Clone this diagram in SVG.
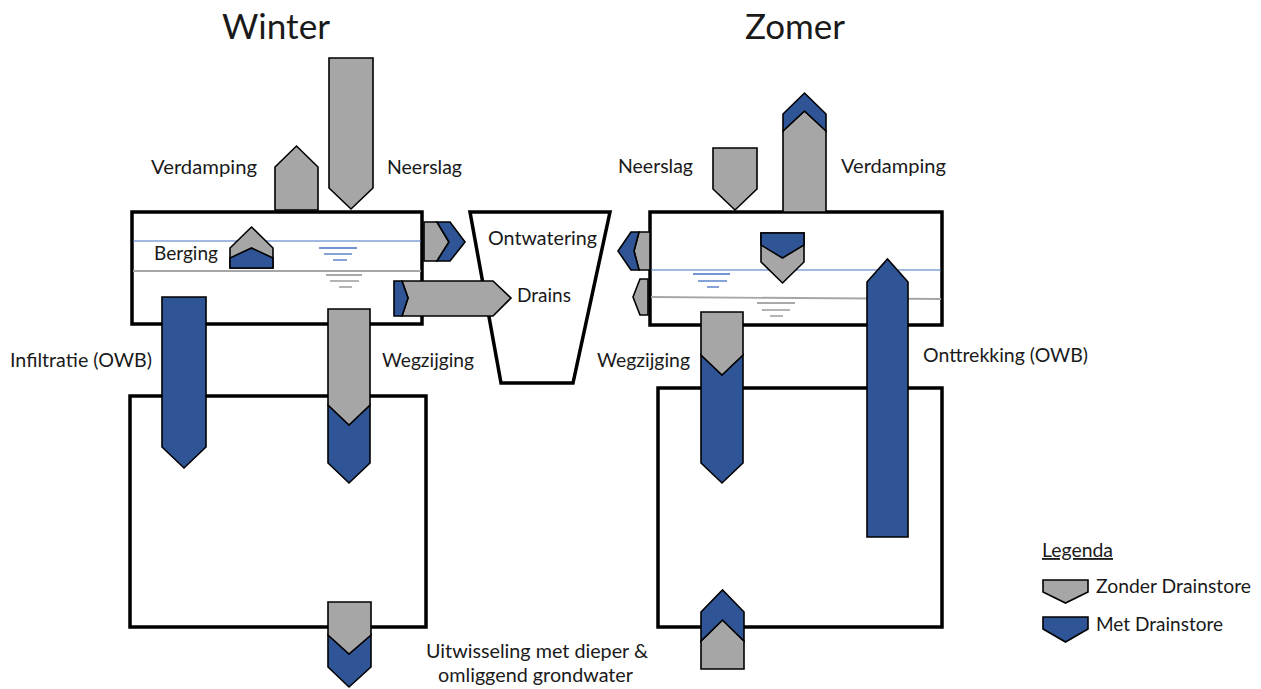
<svg xmlns="http://www.w3.org/2000/svg" width="1261" height="689" viewBox="0 0 1261 689">
<style>
.bg{fill:#ffffff}
.box{fill:none;stroke:#000;stroke-width:3.5}
.boxw{fill:#ffffff;stroke:#000;stroke-width:3.5}
.g{fill:#A6A6A6;stroke:#000;stroke-width:1.6;stroke-linejoin:miter}
.b{fill:#2F5597;stroke:#000;stroke-width:1.6;stroke-linejoin:miter}
.wl{stroke:#4472C4;stroke-width:1.2;fill:none}
.gl{stroke:#A6A6A6;stroke-width:1.8;fill:none}
.ws{stroke:#4472C4;stroke-width:1.3}
.gs{stroke:#8C8C8C;stroke-width:1.3}
text{font-family:Lato,"Open Sans","Liberation Sans",sans-serif;fill:#1a1a1a;font-size:18.5px}
.title{font-size:34.5px}
</style>
<rect class="bg" x="0" y="0" width="1261" height="689"/>

<!-- Winter -->
<g id="winter-upper-box">
<rect class="boxw" x="132" y="212" width="290" height="112"/>
<line class="wl" x1="133" y1="241" x2="421" y2="241"/>
<line class="gl" x1="133" y1="271" x2="421" y2="271"/>
<line class="ws" x1="319" y1="248" x2="357" y2="248"/>
<line class="ws" x1="324" y1="254" x2="352" y2="254"/>
<line class="ws" x1="333" y1="260" x2="347" y2="260"/>
<line class="gs" x1="326" y1="275" x2="362" y2="275"/>
<line class="gs" x1="330" y1="281" x2="359" y2="281"/>
<line class="gs" x1="339" y1="287" x2="352" y2="287"/>
</g>
<g id="winter-lower-box">
<rect class="box" x="130" y="396" width="296" height="231"/>
</g>
<g id="ditch">
<polygon class="box" points="470,212 610,212 573,383 501,383"/>
</g>

<!-- Zomer -->
<g id="summer-upper-box">
<rect class="boxw" x="650" y="212" width="292" height="113"/>
<line class="wl" x1="651" y1="270" x2="941" y2="270"/>
<line class="gl" x1="651" y1="297" x2="941" y2="299"/>
<line class="ws" x1="693" y1="274" x2="730" y2="274"/>
<line class="ws" x1="698" y1="281" x2="727" y2="281"/>
<line class="ws" x1="707" y1="287" x2="719" y2="287"/>
<line class="gs" x1="757" y1="303" x2="795" y2="303"/>
<line class="gs" x1="762" y1="310" x2="790" y2="310"/>
<line class="gs" x1="770" y1="316" x2="783" y2="316"/>
</g>
<g id="summer-lower-box">
<rect class="box" x="658" y="388" width="284" height="239"/>
</g>

<g id="connectors">
<!-- Winter arrows -->
<g id="w-verdamping"><polygon class="g" points="275,210 275,167 296.5,146 318,167 318,210"/></g>
<g id="w-neerslag"><polygon class="g" points="329,58 373,58 373,188 351,209 329,188"/></g>
<g id="w-berging">
<polygon class="g" points="230,268 230,248 251.5,227 273,248 273,268"/>
<polygon class="b" points="230,268 230,258 251.5,248 273,258 273,268"/>
</g>
<g id="w-ontwatering">
<polygon class="g" points="424,222 437,222 449,242 437,261 424,261"/>
<polygon class="b" points="437,222 450,222 465,242 450,261 437,261 449,242"/>
</g>
<g id="w-drains">
<polygon class="g" points="402,281 493,281 511,298 493,316 402,316 408,298"/>
<polygon class="b" points="394,281 402,281 408,298 402,316 394,316"/>
</g>
<g id="w-infiltratie"><polygon class="b" points="162,297 206,297 206,447 184,468 162,447"/></g>
<g id="w-wegzijging">
<polygon class="b" points="328,405 349,425 370,405 370,463 349,483 328,463"/>
<polygon class="g" points="328,309 370,309 370,405 349,425 328,405"/>
</g>
<g id="w-uitwisseling">
<polygon class="b" points="328,635 349,654 371,635 371,667 349,687 328,667"/>
<polygon class="g" points="328,602 371,602 371,635 349,654 328,635"/>
</g>

<!-- Summer arrows -->
<g id="z-neerslag"><polygon class="g" points="713,148 757,148 757,189 735,210 713,189"/></g>
<g id="z-verdamping">
<polygon class="g" points="783,212 783,131 804.5,111 826,131 826,212"/>
<polygon class="b" points="783,131 783,114 804.5,93 826,114 826,131 804.5,111"/>
</g>
<g id="z-berging">
<polygon class="g" points="761,233 804,233 804,262 782.5,283 761,262"/>
<polygon class="b" points="761,233 804,233 804,245 782.5,258 761,245"/>
</g>
<g id="z-ontwatering">
<polygon class="g" points="650,232 639,232 634,251 639,270 650,270"/>
<polygon class="b" points="639,232 631,232 618,251 631,270 639,270 634,251"/>
</g>
<g id="z-drains"><polygon class="g" points="648,279 640,279 633,297 640,315 648,315"/></g>
<g id="z-wegzijging">
<polygon class="b" points="701,355 722,375 743,355 743,463 722,483 701,463"/>
<polygon class="g" points="701,312 743,312 743,355 722,375 701,355"/>
</g>
<g id="z-onttrekking"><polygon class="b" points="867,537 867,282 887.5,259 908,282 908,537"/></g>
<g id="z-uitwisseling">
<polygon class="g" points="701,669 701,641 722.5,620 744,641 744,669"/>
<polygon class="b" points="701,641 701,612 722.5,590 744,612 744,641 722.5,620"/>
</g>
</g>

<!-- Legend -->
<g id="legend">
<polygon class="g" points="1043,580 1088,580 1088,592 1065.5,603 1043,592"/>
<polygon class="b" points="1043,617 1088,617 1088,629 1065.5,642 1043,629"/>
<text x="1042" y="557" textLength="71" lengthAdjust="spacingAndGlyphs" text-decoration="underline">Legenda</text>
<text x="1096" y="593" textLength="155" lengthAdjust="spacingAndGlyphs">Zonder Drainstore</text>
<text x="1096" y="631" textLength="127" lengthAdjust="spacingAndGlyphs">Met Drainstore</text>
</g>

<!-- Labels -->
<g id="labels">
<text class="title" x="222" y="39" textLength="108" lengthAdjust="spacingAndGlyphs">Winter</text>
<text class="title" x="745" y="39" textLength="100" lengthAdjust="spacingAndGlyphs">Zomer</text>
<text x="151" y="174" textLength="106" lengthAdjust="spacingAndGlyphs">Verdamping</text>
<text x="387" y="174" textLength="75" lengthAdjust="spacingAndGlyphs">Neerslag</text>
<text x="154" y="260" textLength="64" lengthAdjust="spacingAndGlyphs">Berging</text>
<text x="488" y="245" textLength="109" lengthAdjust="spacingAndGlyphs">Ontwatering</text>
<text x="517" y="302" textLength="54" lengthAdjust="spacingAndGlyphs">Drains</text>
<text x="10" y="367" textLength="142" lengthAdjust="spacingAndGlyphs">Infiltratie (OWB)</text>
<text x="382" y="367" textLength="92" lengthAdjust="spacingAndGlyphs">Wegzijging</text>
<text x="597" y="367" textLength="93" lengthAdjust="spacingAndGlyphs">Wegzijging</text>
<text x="618" y="173" textLength="75" lengthAdjust="spacingAndGlyphs">Neerslag</text>
<text x="841" y="173" textLength="105" lengthAdjust="spacingAndGlyphs">Verdamping</text>
<text x="923" y="362" textLength="165" lengthAdjust="spacingAndGlyphs">Onttrekking (OWB)</text>
<text x="426" y="658" textLength="222" lengthAdjust="spacingAndGlyphs">Uitwisseling met dieper &amp;</text>
<text x="438" y="682" textLength="195" lengthAdjust="spacingAndGlyphs">omliggend grondwater</text>
</g>
</svg>
